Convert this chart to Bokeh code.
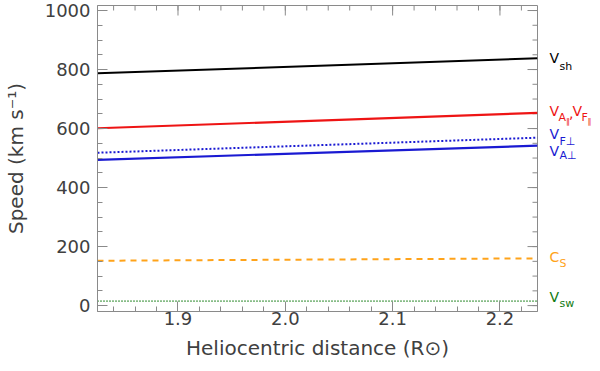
import numpy as np
from bokeh.plotting import figure
from bokeh.layouts import row
from bokeh.models import LinearAxis, FixedTicker, Range1d, NumeralTickFormatter
from bokeh.core.properties import value
from bokeh.embed import file_html
from bokeh.resources import INLINE

# ---- data ----
distance = [1.825, 2.235]            # heliocentric distance (R_sun)
v_sh = [787, 838]                    # shock speed
v_a_par = [601, 653]                 # V_A||, V_F||
v_f_perp = [518, 569]                # V_F perp (dotted)
v_a_perp = [494, 542]                # V_A perp
c_s = [152, 160]                     # sound speed
v_sw = [15, 15]                      # solar wind speed

x_major = [1.9, 2.0, 2.1, 2.2]
y_major = [0, 200, 400, 600, 800, 1000]

FONT = "DejaVu Sans"
AX = "#8a8a8a"
TXT = "#404040"

TOP, BOTTOM = 5, 52
H = 363
W1 = 539
X0, X1 = 1.825, 2.235
Y0, Y1 = -20, 1017
yr_shared = Range1d(Y0, Y1)

p = figure(width=W1, height=H, output_backend="svg", toolbar_location=None,
           x_range=Range1d(X0, X1), y_range=yr_shared,
           min_border_left=95, min_border_right=2, min_border_top=TOP,
           min_border_bottom=BOTTOM, x_axis_location=None, y_axis_location=None)
p.grid.visible = False
p.outline_line_color = AX
p.border_fill_color = "white"

x_minor = list(np.round(np.arange(1.84, 2.23, 0.02), 3))
y_minor = list(range(0, 1001, 50))

def make_axis(ticks, minor, label):
    ax = LinearAxis(ticker=FixedTicker(ticks=ticks, minor_ticks=minor))
    ax.axis_line_color = AX
    ax.major_tick_line_color = AX
    ax.minor_tick_line_color = AX
    ax.major_tick_in = 10
    ax.major_tick_out = 0
    ax.minor_tick_in = 5
    ax.minor_tick_out = 0
    ax.major_label_text_font = FONT
    ax.major_label_text_color = TXT
    ax.major_label_text_font_size = "18px"
    ax.axis_label = label
    ax.axis_label_text_font = FONT
    ax.axis_label_text_font_size = "20px"
    ax.axis_label_text_font_style = "normal"
    ax.axis_label_text_color = TXT
    return ax

xb = make_axis(x_major, x_minor, "Heliocentric distance (R\u2299)")
xb.formatter = NumeralTickFormatter(format="0.0")
xb.major_label_standoff = 0
xb.axis_label_standoff = 8
yl = make_axis(y_major, y_minor, "Speed (km s\u207b\u00b9)")
yl.major_label_standoff = 7
yl.axis_label_standoff = 14
p.add_layout(xb, "below")
p.add_layout(yl, "left")

# mirrored tick marks on the top and right edges of the box
p.ray(x=x_major, y=[Y1] * len(x_major), length=10, length_units="screen",
      angle=-np.pi / 2, line_color=AX, line_width=1)
p.ray(x=x_minor, y=[Y1] * len(x_minor), length=5, length_units="screen",
      angle=-np.pi / 2, line_color=AX, line_width=1)
p.ray(x=[X1] * len(y_major), y=y_major, length=10, length_units="screen",
      angle=np.pi, line_color=AX, line_width=1)
p.ray(x=[X1] * len(y_minor), y=y_minor, length=5, length_units="screen",
      angle=np.pi, line_color=AX, line_width=1)

RED = "#ee1414"
BLUE = "#1a1ad2"
ORANGE = "#ffa31a"
GREEN = "#107a10"

p.line(distance, v_sh, line_color="black", line_width=2)
p.line(distance, v_a_par, line_color=RED, line_width=2.2)
p.line(distance, v_f_perp, line_color=BLUE, line_width=2, line_dash="2 2")
p.line(distance, v_a_perp, line_color=BLUE, line_width=2.2)
p.line(distance, c_s, line_color=ORANGE, line_width=2, line_dash="6 5")
p.line(distance, v_sw, line_color=GREEN, line_width=1.6, line_dash="1 2")

# ---- right-hand labels panel ----
W2 = 592 - W1
q = figure(width=W2, height=H, output_backend="svg", toolbar_location=None,
           x_range=Range1d(0, W2), y_range=yr_shared,
           min_border_left=0, min_border_right=0, min_border_top=TOP,
           min_border_bottom=BOTTOM, x_axis_location=None, y_axis_location=None)
q.grid.visible = False
q.outline_line_color = None
q.border_fill_color = "white"

BIG, SUB, SUB2 = "14px", "11px", "8px"

def lab(y, text, x, dy, color, size):
    q.text(x=[x], y=[y], text=[text], y_offset=-dy, text_color=color,
           text_font=value(FONT), text_font_size=size,
           text_align="left", text_baseline="middle")

lab(v_sh[-1], "V", 10, 0, "black", BIG)
lab(v_sh[-1], "sh", 20, -8, "black", SUB)

lab(v_a_par[-1], "V", 10, 2, RED, BIG)
lab(v_a_par[-1], "A", 19, -5, RED, SUB)
lab(v_a_par[-1], "\u2225", 26.5, -9, RED, SUB2)
lab(v_a_par[-1], ",", 29.5, 0, RED, BIG)
lab(v_a_par[-1], "V", 33, 2, RED, BIG)
lab(v_a_par[-1], "F", 42, -5, RED, SUB)
lab(v_a_par[-1], "\u2225", 48, -9, RED, SUB2)

lab(v_f_perp[-1], "V", 10, 4, BLUE, BIG)
lab(v_f_perp[-1], "F\u22a5", 20, -4, BLUE, SUB)

lab(v_a_perp[-1], "V", 10, -5, BLUE, BIG)
lab(v_a_perp[-1], "A\u22a5", 20, -10, BLUE, SUB)

lab(c_s[-1], "C", 10, 1, ORANGE, BIG)
lab(c_s[-1], "S", 20, -5, ORANGE, SUB)

lab(v_sw[-1], "V", 10, 4, GREEN, BIG)
lab(v_sw[-1], "sw", 20, -2, GREEN, SUB)

open("out.html", "w").write(file_html(row(p, q), INLINE))
